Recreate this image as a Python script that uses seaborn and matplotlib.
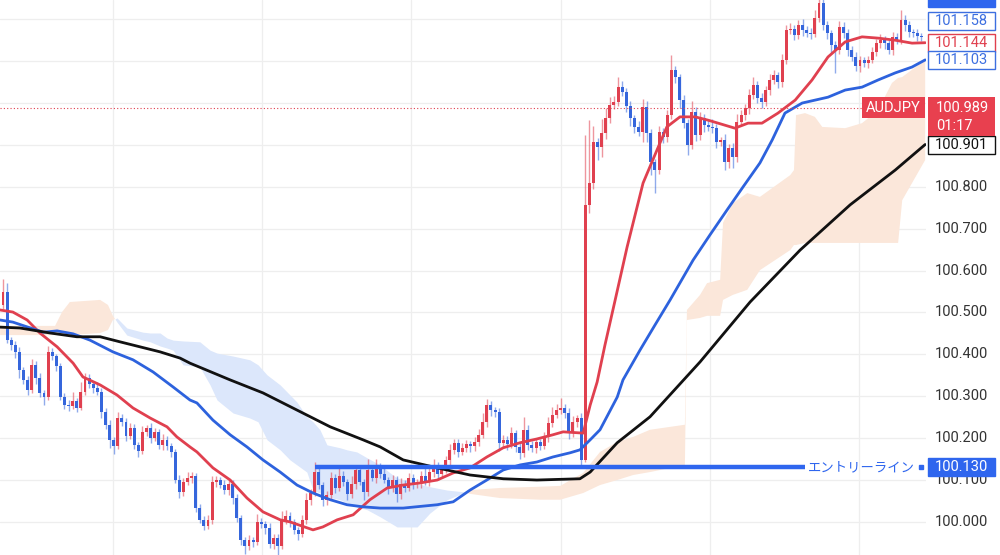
import numpy as np
import pandas as pd
import matplotlib
matplotlib.use("Agg")
import matplotlib.pyplot as plt
import seaborn as sns
from matplotlib.patches import Rectangle

# ---------------- data ----------------
first_open = 100.518
closes = [
    100.549, 100.434, 100.422, 100.406, 100.363, 100.339, 100.315, 100.375, 100.344, 100.308,
    100.298, 100.406, 100.396, 100.372, 100.298, 100.279, 100.277, 100.289, 100.272, 100.310,
    100.344, 100.329, 100.320, 100.310, 100.263, 100.232, 100.196, 100.181, 100.248, 100.239,
    100.205, 100.224, 100.184, 100.169, 100.215, 100.224, 100.200, 100.215, 100.184, 100.196,
    100.181, 100.167, 100.100, 100.072, 100.095, 100.105, 100.110, 100.033, 100.005, 99.990,
    100.005, 100.095, 100.100, 100.088, 100.076, 100.091, 100.057, 100.010, 99.957, 99.943,
    99.957, 99.952, 100.000, 99.995, 99.986, 99.947, 99.962, 99.943, 100.005, 100.014,
    100.000, 99.981, 99.971, 100.005, 100.053, 100.069, 100.119, 100.088, 100.053, 100.064,
    100.105, 100.081, 100.110, 100.095, 100.067, 100.091, 100.124, 100.095, 100.072, 100.124,
    100.105, 100.131, 100.115, 100.100, 100.081, 100.100, 100.067, 100.091, 100.081, 100.105,
    100.091, 100.095, 100.110, 100.095, 100.119, 100.134, 100.115, 100.124, 100.148, 100.172,
    100.189, 100.167, 100.177, 100.186, 100.181, 100.191, 100.208, 100.239, 100.279, 100.267,
    100.263, 100.189, 100.196, 100.186, 100.212, 100.179, 100.165, 100.220, 100.184, 100.177,
    100.191, 100.181, 100.203, 100.236, 100.255, 100.267, 100.272, 100.260, 100.212, 100.239,
    100.248, 100.148, 100.757, 100.809, 100.907, 100.895, 100.928, 100.964, 100.995, 101.002,
    101.038, 101.026, 100.993, 100.964, 100.943, 100.931, 100.990, 100.928, 100.859, 100.840,
    100.931, 100.919, 100.971, 101.079, 101.062, 101.007, 100.952, 100.900, 100.979, 100.924,
    100.964, 100.947, 100.943, 100.940, 100.907, 100.912, 100.859, 100.893, 100.871, 100.955,
    100.971, 100.988, 101.019, 101.043, 101.012, 101.002, 101.031, 101.055, 101.067, 101.050,
    101.103, 101.174, 101.177, 101.162, 101.186, 101.174, 101.167, 101.165, 101.203, 101.238,
    101.186, 101.167, 101.138, 101.127, 101.181, 101.167, 101.127, 101.110, 101.088, 101.103,
    101.095, 101.103, 101.122, 101.143, 101.150, 101.143, 101.127, 101.158, 101.150, 101.198,
    101.186, 101.169, 101.167, 101.160, 101.158,
]
# wick extensions beyond the body, in thousandths of a yen
wick_up = [
    30, 22, 8, 10, 12, 6, 10, 15, 8, 12, 8, 14, 10, 6, 8, 10, 12, 20, 8, 25,
    12, 10, 8, 15, 10, 8, 12, 6, 15, 10, 8, 12, 10, 6, 14, 8, 12, 10, 8, 15,
    10, 8, 6, 12, 10, 15, 8, 6, 10, 8, 12, 15, 10, 8, 12, 10, 8, 10, 6, 8,
    12, 8, 18, 10, 8, 12, 10, 8, 20, 15, 10, 8, 6, 12, 15, 10, 25, 12, 8, 10,
    15, 10, 20, 12, 8, 18, 12, 10, 8, 25, 12, 20, 10, 18, 8, 12, 10, 15, 8, 12,
    10, 8, 12, 20, 10, 15, 8, 12, 10, 15, 10, 8, 12, 10, 8, 12, 15, 20, 15, 10,
    8, 10, 12, 10, 15, 8, 10, 30, 12, 8, 10, 8, 12, 15, 20, 15, 25, 10, 12, 15,
    8, 12, 167, 150, 38, 10, 35, 25, 20, 15, 25, 15, 10, 12, 8, 15, 20, 15, 10, 8,
    15, 10, 12, 36, 10, 8, 12, 10, 25, 12, 15, 10, 12, 20, 10, 8, 15, 10, 12, 18,
    12, 10, 15, 20, 10, 12, 10, 15, 12, 8, 15, 12, 15, 10, 12, 15, 10, 12, 20, 40,
    15, 10, 8, 10, 15, 12, 10, 8, 12, 10, 8, 10, 12, 10, 15, 10, 8, 12, 10, 25,
    12, 10, 8, 10, 8,
]
wick_dn = [
    10, 8, 12, 15, 20, 10, 12, 8, 15, 10, 18, 8, 10, 12, 8, 10, 12, 8, 10, 6,
    8, 10, 12, 8, 15, 10, 20, 18, 8, 10, 12, 8, 10, 15, 8, 10, 12, 8, 10, 12,
    10, 12, 8, 15, 10, 8, 12, 10, 8, 10, 8, 10, 12, 8, 10, 12, 15, 10, 12, 20,
    10, 12, 8, 10, 15, 10, 12, 25, 8, 10, 12, 10, 15, 8, 10, 12, 8, 10, 15, 12,
    10, 12, 8, 10, 15, 10, 12, 8, 20, 10, 8, 12, 10, 8, 15, 10, 20, 12, 10, 8,
    12, 10, 15, 8, 10, 12, 15, 10, 8, 12, 10, 12, 8, 10, 15, 12, 10, 8, 12, 15,
    12, 20, 10, 15, 10, 12, 15, 10, 12, 10, 12, 10, 8, 12, 10, 8, 10, 12, 15, 10,
    12, 15, 5, 20, 15, 30, 25, 15, 12, 10, 8, 10, 15, 20, 15, 10, 25, 20, 30, 55,
    10, 15, 12, 10, 15, 20, 12, 25, 10, 15, 12, 15, 10, 12, 15, 10, 20, 15, 25, 12,
    10, 12, 15, 10, 12, 15, 10, 12, 10, 15, 12, 10, 8, 12, 10, 15, 10, 12, 8, 10,
    12, 15, 20, 55, 10, 12, 15, 10, 12, 15, 10, 12, 8, 10, 12, 15, 10, 12, 10, 8,
    15, 12, 10, 12, 10,
]

# moving averages: (candle index, price)
red_ma_x = [-0.7, 2.4, 5.9, 9.0, 13.2, 17.1, 19.5, 23.7, 27.8, 31.7, 35.9, 40.0, 42.4, 45.6, 47.3,
            51.2, 55.4, 59.5, 63.4, 67.6, 70.0, 75.6, 78.0, 81.5, 85.4, 89.5, 93.7, 97.6, 101.7,
            105.9, 109.8, 113.9, 118.0, 122.0, 126.1, 130.2, 134.1, 136.6, 141.5, 143.2, 144.9,
            146.8, 149.3, 152.2, 156.1, 159.5, 161.9, 165.1, 168.8, 172.0, 176.1, 178.5, 181.7,
            185.1, 189.0, 193.2, 197.3, 201.2, 205.4, 209.5, 213.4, 217.6, 221.7, 224.9]
red_ma_y = [100.506, 100.501, 100.482, 100.451, 100.418, 100.379, 100.346, 100.327, 100.303, 100.272,
            100.248, 100.227, 100.203, 100.179, 100.167, 100.129, 100.100, 100.057, 100.024, 100.005,
            100.000, 99.981, 99.988, 100.005, 100.017, 100.053, 100.081, 100.088, 100.093, 100.100,
            100.117, 100.129, 100.155, 100.177, 100.189, 100.198, 100.208, 100.215, 100.212, 100.279,
            100.334, 100.422, 100.530, 100.656, 100.809, 100.888, 100.943, 100.967, 100.967, 100.959,
            100.947, 100.940, 100.952, 100.952, 100.976, 101.007, 101.055, 101.110, 101.146, 101.158,
            101.155, 101.150, 101.143, 101.144]

blue_ma_x = [-0.7, 2.4, 7.3, 9.8, 13.2, 17.1, 21.2, 26.8, 31.7, 36.6, 41.5, 45.6, 47.3, 51.2, 55.4,
             59.5, 63.4, 67.6, 71.7, 75.6, 79.8, 83.9, 87.8, 92.0, 97.6, 105.9, 109.8, 113.9, 118.0,
             122.0, 126.1, 130.2, 134.1, 138.3, 140.7, 143.2, 145.6, 149.8, 151.2, 155.4, 159.0,
             162.7, 168.3, 172.4, 176.6, 180.5, 184.6, 187.6, 190.7, 194.9, 201.2, 205.4, 209.5,
             213.4, 217.6, 221.7, 224.9]
blue_ma_y = [100.482, 100.477, 100.461, 100.453, 100.456, 100.449, 100.434, 100.406, 100.387, 100.358,
             100.322, 100.291, 100.284, 100.243, 100.208, 100.179, 100.148, 100.119, 100.088, 100.069,
             100.053, 100.041, 100.036, 100.033, 100.033, 100.041, 100.048, 100.076, 100.100, 100.124,
             100.136, 100.143, 100.155, 100.165, 100.172, 100.196, 100.220, 100.298, 100.339, 100.411,
             100.470, 100.530, 100.625, 100.685, 100.745, 100.800, 100.857, 100.912, 100.976, 101.000,
             101.014, 101.031, 101.038, 101.055, 101.072, 101.086, 101.103]

black_ma_x = [-0.7, 4.1, 11.5, 18.0, 23.7, 28.5, 33.4, 38.3, 43.2, 45.6, 55.4, 63.4, 71.7, 79.8, 87.8,
              92.0, 97.6, 105.9, 113.9, 122.0, 130.2, 140.7, 143.2, 149.8, 157.8, 170.0, 182.2,
              194.4, 206.6, 217.6, 224.9]
black_ma_y = [100.465, 100.463, 100.451, 100.442, 100.442, 100.430, 100.418, 100.406, 100.391, 100.379,
              100.339, 100.308, 100.267, 100.227, 100.196, 100.179, 100.148, 100.129, 100.112, 100.103,
              100.100, 100.103, 100.119, 100.189, 100.251, 100.382, 100.525, 100.649, 100.757, 100.840,
              100.901]

# ichimoku cloud (candle index, senkou span A, senkou span B)
cloud_x = [-0.7, 12.7, 14.4, 16.3, 23.7, 25.6, 26.8, 27.8, 30.2, 34.1, 35.9, 38.3, 40.0, 41.5, 43.9,
           48.0, 50.5, 52.2, 56.1, 60.2, 62.2, 64.4, 67.6, 70.0, 71.7, 74.1, 75.6, 77.3, 79.0, 82.2,
           83.9, 86.3, 88.8, 92.0, 94.4, 96.1, 101.0, 104.1, 108.3, 112.2, 113.9, 121.2, 131.0,
           135.9, 141.5, 145.6, 149.8, 153.7, 157.8, 166.3, 166.8, 170.0, 171.7, 174.9, 175.6,
           178.0, 181.5, 184.6, 192.0, 192.9, 193.4, 195.6, 198.0, 199.8, 205.4, 209.5, 213.4,
           216.8, 218.3, 219.3, 224.9]
span_a = [100.468, 100.468, 100.501, 100.525, 100.530, 100.518, 100.492, 100.477, 100.446, 100.434,
          100.430, 100.420, 100.415, 100.410, 100.375, 100.370, 100.327, 100.291, 100.260, 100.248,
          100.239, 100.196, 100.172, 100.148, 100.136, 100.119, 100.076, 100.069, 100.060, 100.053,
          100.045, 100.036, 100.029, 100.012, 99.998, 99.988, 99.988, 100.021, 100.053, 100.069,
          100.076, 100.081, 100.084, 100.086, 100.117, 100.167, 100.191, 100.203, 100.220, 100.232,
          100.506, 100.542, 100.570, 100.578, 100.714, 100.761, 100.785, 100.776, 100.828, 100.840,
          100.971, 100.976, 100.967, 100.943, 100.940, 100.952, 100.983, 101.048, 101.060, 101.062,
          101.103]
span_b = [100.446, 100.446, 100.446, 100.446, 100.451, 100.458, 100.482, 100.487, 100.463, 100.453,
          100.451, 100.451, 100.439, 100.434, 100.432, 100.430, 100.410, 100.403, 100.396, 100.387,
          100.375, 100.351, 100.327, 100.303, 100.286, 100.251, 100.239, 100.220, 100.184, 100.177,
          100.172, 100.167, 100.153, 100.136, 100.117, 100.105, 100.091, 100.084, 100.076, 100.072,
          100.067, 100.057, 100.053, 100.053, 100.069, 100.088, 100.100, 100.112, 100.119, 100.136,
          100.482, 100.487, 100.492, 100.492, 100.530, 100.542, 100.554, 100.601, 100.649, 100.661,
          100.661, 100.666, 100.666, 100.666, 100.666, 100.666, 100.666, 100.666, 100.666, 100.768,
          100.864]

entry_price = 100.130
entry_label = "エントリーライン"
entry_start, entry_end = 76.1, 195.6
symbol = "AUDJPY"
last_price = 100.989
countdown = "01:17"
ma_labels = [(101.158, "101.158", "#3d6fe0"), (101.144, "101.144", "#e0404f"),
             (101.103, "101.103", "#3d6fe0"), (100.901, "100.901", "#111111")]
price_ticks = [100.0, 100.1, 100.2, 100.3, 100.4, 100.5, 100.6, 100.7, 100.8,
               100.9, 101.0, 101.1, 101.2]
visible_tick_labels = [100.0, 100.1, 100.2, 100.3, 100.4, 100.5, 100.6, 100.7, 100.8]
time_grid = [26.8, 63.2, 99.6, 136.0, 172.4, 208.8]

# ---------------- build ----------------
sns.set_theme(style="white")
plt.rcParams['font.family'] = ['Roboto', 'DejaVu Sans']

RED = "#e0404f"
BLUE = "#3566dc"
ENTRY = "#2f66ee"

n = len(closes)
idx = np.arange(n)
c = np.array(closes)
o = np.concatenate([[first_open], c[:-1]])
hi = np.maximum(o, c) + np.array(wick_up) / 1000.0
lo = np.minimum(o, c) - np.array(wick_dn) / 1000.0
up = c >= o
colors = np.where(up, RED, BLUE)

YMIN, YMAX = 99.921, 101.246
XMIN, XMAX = -0.73, 225.1

fig = plt.figure(figsize=(10, 5.55), dpi=100)
ax = fig.add_axes([0, 0, 0.926, 1])
ax.set_xlim(XMIN, XMAX)
ax.set_ylim(YMIN, YMAX)

# grid
for p in price_ticks:
    ax.axhline(p, color="#eeeeee", lw=0.9, zorder=0)
for t in time_grid:
    ax.axvline(t, color="#eeeeee", lw=0.9, zorder=0)

# cloud
cx = np.array(cloud_x); sa = np.array(span_a); sb = np.array(span_b)
ax.fill_between(cx, sa, sb, where=sa >= sb, interpolate=True, color="#fbe7da", lw=0, zorder=1)
ax.fill_between(cx, sa, sb, where=sa < sb, interpolate=True, color="#dce7fb", lw=0, zorder=1)

# candles
ax.vlines(idx, lo, hi, colors=colors, lw=1.0, alpha=0.55, zorder=2)
body_h = np.maximum(np.abs(c - o), 0.002)
ax.bar(idx, body_h, bottom=np.minimum(o, c), width=0.72, color=colors, lw=0, zorder=3)

# moving averages
sns.lineplot(x=red_ma_x, y=red_ma_y, ax=ax, color=RED, lw=2.0, sort=False, zorder=4)
sns.lineplot(x=blue_ma_x, y=blue_ma_y, ax=ax, color="#2d62dd", lw=2.0, sort=False, zorder=4)
sns.lineplot(x=black_ma_x, y=black_ma_y, ax=ax, color="#111111", lw=2.0, sort=False, zorder=4)

# entry line
ax.hlines(entry_price, entry_start, entry_end, color=ENTRY, lw=3.2, zorder=5)
ax.text(entry_end + 0.8, entry_price, entry_label, color=ENTRY, fontsize=9.6,
        va="center", ha="left", family=['Noto Sans CJK JP', 'DejaVu Sans'], zorder=6)
ax.plot([223.9], [entry_price], marker="s", ms=2.5, color=ENTRY, zorder=6)

# current price dotted line
ax.hlines(last_price, XMIN, 209.5, color=RED, lw=0.8, linestyles=(0, (1, 2)), zorder=5)

ax.set_xticks([]); ax.set_yticks([])
for s in ax.spines.values():
    s.set_visible(False)
ax.set_xlabel(""); ax.set_ylabel("")


def fy(price):
    return (price - YMIN) / (YMAX - YMIN)


# right axis labels (higher levels sit under the price labels)
for p in visible_tick_labels:
    fig.text(0.935, fy(p), f"{p:.3f}", fontsize=10.5, color="#333333", va="center", ha="left", zorder=1)

BW = 0.067
BX = 0.928
BH = 18 / 555


def box(yc, text, face, edge, tcolor, h=BH):
    fig.patches.append(Rectangle((BX, yc - h / 2), BW, h, transform=fig.transFigure,
                                 facecolor=face, edgecolor=edge, lw=1.0, zorder=5))
    if text:
        fig.text(BX + BW / 2, yc, text, fontsize=10.5, color=tcolor, va="center", ha="center", zorder=6)


# top (cut) label
fig.patches.append(Rectangle((BX, 1 - 7 / 555), BW, 12 / 555, transform=fig.transFigure,
                             facecolor=ENTRY, edgecolor=ENTRY, zorder=5))
# MA labels (first one displaced upward to avoid overlap)
disp = {"101.158": 1 - 21 / 555}
for p, t, col in ma_labels:
    yc = disp.get(t, fy(p))
    box(yc, t, "white", col, col)

# symbol + last price
yc = fy(last_price)
fig.patches.append(Rectangle((0.862, yc - 10.5 / 555), 0.063, 21 / 555, transform=fig.transFigure,
                             facecolor="#e8404f", edgecolor="none", zorder=5))
fig.text(0.8935, yc, symbol, fontsize=10.5, color="white", va="center", ha="center", zorder=6)
fig.patches.append(Rectangle((BX, yc - 28 / 555), BW, 38.5 / 555, transform=fig.transFigure,
                             facecolor="#e8404f", edgecolor="none", zorder=5))
fig.text(0.936, yc, f"{last_price:.3f}", fontsize=10.5, color="white", va="center", ha="left", zorder=6)
fig.text(0.936, yc - 18 / 555, countdown, fontsize=10.5, color="white", va="center", ha="left", zorder=6)

# entry price label
box(fy(entry_price), f"{entry_price:.3f}", ENTRY, ENTRY, "white")

fig.savefig("out.png", dpi=100)
